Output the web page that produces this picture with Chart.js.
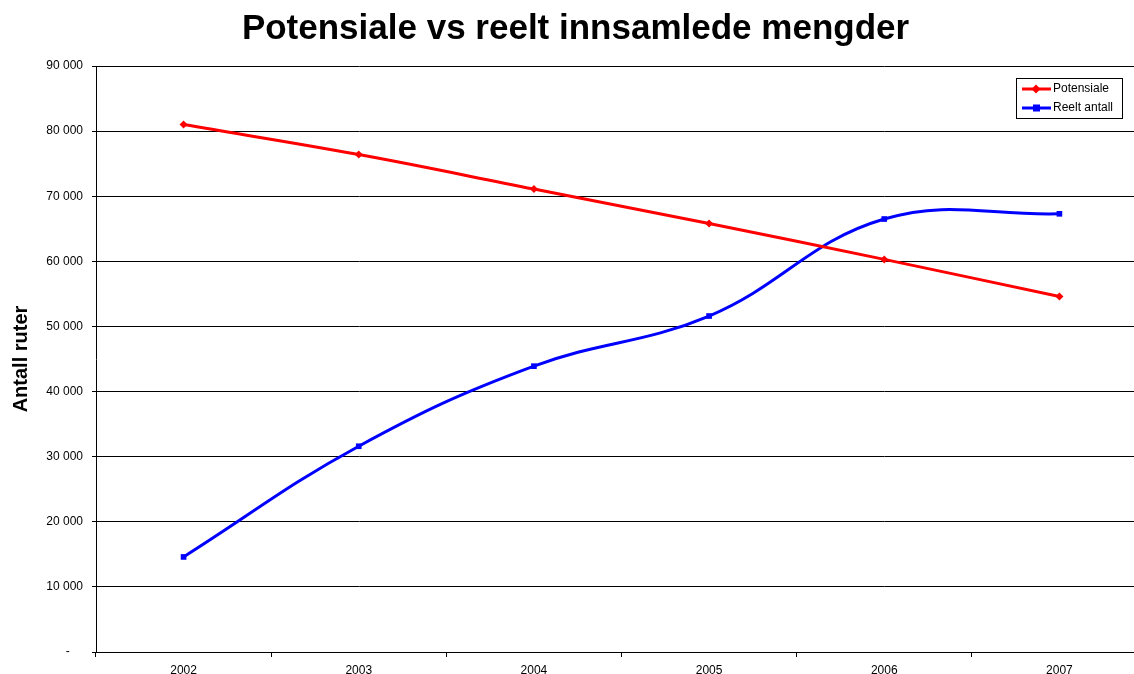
<!DOCTYPE html>
<html>
<head>
<meta charset="utf-8">
<script src="https://cdn.jsdelivr.net/npm/chart.js@4.4.1/dist/chart.umd.min.js"></script>
<style>
    html, body { margin: 0; padding: 0; background: #fff; overflow: hidden; }
    #wrap { width: 1151px; height: 694px; position: relative; }
</style>
</head>
<body>
<div id="wrap"><canvas id="chart"></canvas></div>
<script>
// data
const years = ['2002', '2003', '2004', '2005', '2006', '2007'];
const potensiale = [81000, 76400, 71100, 65800, 60300, 54600];
const reeltAntall = [14600, 31600, 43900, 51600, 66500, 67300];
const seriesNames = ['Potensiale', 'Reelt antall'];

const FONT = "'Liberation Sans', Arial, sans-serif";

function fmt(v) {
    if (v === 0) return '-    ';
    return String(v).replace(/\B(?=(\d{3})+(?!\d))/g, ' ');
}

// boxed legend inside the plot area, top right
const boxLegend = {
    id: 'boxLegend',
    afterDraw(chart) {
        const ctx = chart.ctx;
        const area = chart.chartArea;
        const w = 106, h = 40;
        const x = 1016;
        const y = area.top + 12;
        ctx.save();
        ctx.fillStyle = '#fff';
        ctx.fillRect(x, y, w, h);
        ctx.strokeStyle = '#000';
        ctx.lineWidth = 1;
        ctx.strokeRect(x + 0.5, y + 0.5, w, h);
        ctx.font = '12px ' + FONT;
        ctx.textBaseline = 'middle';
        chart.data.datasets.forEach((ds, i) => {
            const cy = y + 11 + i * 19;
            ctx.strokeStyle = ds.borderColor;
            ctx.lineWidth = 3;
            ctx.beginPath();
            ctx.moveTo(x + 6, cy);
            ctx.lineTo(x + 35, cy);
            ctx.stroke();
            ctx.fillStyle = ds.borderColor;
            if (ds.pointStyle === 'rect') {
                ctx.fillRect(x + 17, cy - 3.5, 7, 7);
            } else {
                ctx.beginPath();
                ctx.moveTo(x + 20, cy - 4.5);
                ctx.lineTo(x + 24.5, cy);
                ctx.lineTo(x + 20, cy + 4.5);
                ctx.lineTo(x + 15.5, cy);
                ctx.closePath();
                ctx.fill();
            }
            ctx.fillStyle = '#000';
            ctx.fillText(ds.label, x + 37, cy);
        });
        ctx.restore();
    }
};

new Chart(document.getElementById('chart'), {
    type: 'line',
    data: {
        labels: years,
        datasets: [
            {
                label: seriesNames[0],
                data: potensiale,
                borderColor: '#ff0000',
                backgroundColor: '#ff0000',
                borderWidth: 3,
                pointStyle: 'rectRot',
                pointRadius: 4,
                pointBorderWidth: 0,
                tension: 0.4
            },
            {
                label: seriesNames[1],
                data: reeltAntall,
                borderColor: '#0000ff',
                backgroundColor: '#0000ff',
                borderWidth: 3,
                pointStyle: 'rect',
                pointRadius: 4,
                pointBorderWidth: 0,
                tension: 0.4
            }
        ]
    },
    options: {
        responsive: true,
        maintainAspectRatio: false,
        animation: false,
        layout: { padding: 0 },
        plugins: {
            legend: { display: false },
            tooltip: { enabled: false },
            title: {
                display: true,
                text: 'Potensiale vs reelt innsamlede mengder',
                color: '#000',
                font: { family: FONT, size: 35, weight: 'bold' },
                padding: { top: 8, bottom: 16 }
            }
        },
        scales: {
            x: {
                offset: true,
                grid: {
                    display: true,
                    offset: true,
                    drawOnChartArea: false,
                    color: '#000',
                    tickLength: 5
                },
                border: { color: '#000', width: 1 },
                ticks: {
                    color: '#000',
                    font: { family: FONT, size: 12 },
                    padding: 6,
                    maxRotation: 0
                },
                afterFit(scale) { scale.height = 42; }
            },
            y: {
                min: 0,
                max: 90000,
                title: {
                    display: true,
                    text: 'Antall ruter',
                    color: '#000',
                    font: { family: FONT, size: 20, weight: 'bold' },
                    padding: { top: 9, bottom: 4 }
                },
                grid: {
                    color: '#000',
                    tickLength: 4
                },
                border: { color: '#000', width: 1 },
                ticks: {
                    stepSize: 10000,
                    color: '#000',
                    font: { family: FONT, size: 12 },
                    padding: 9,
                    callback: v => fmt(v)
                },
                afterFit(scale) { scale.width = 96; }
            }
        }
    },
    plugins: [boxLegend]
});
</script>
</body>
</html>
